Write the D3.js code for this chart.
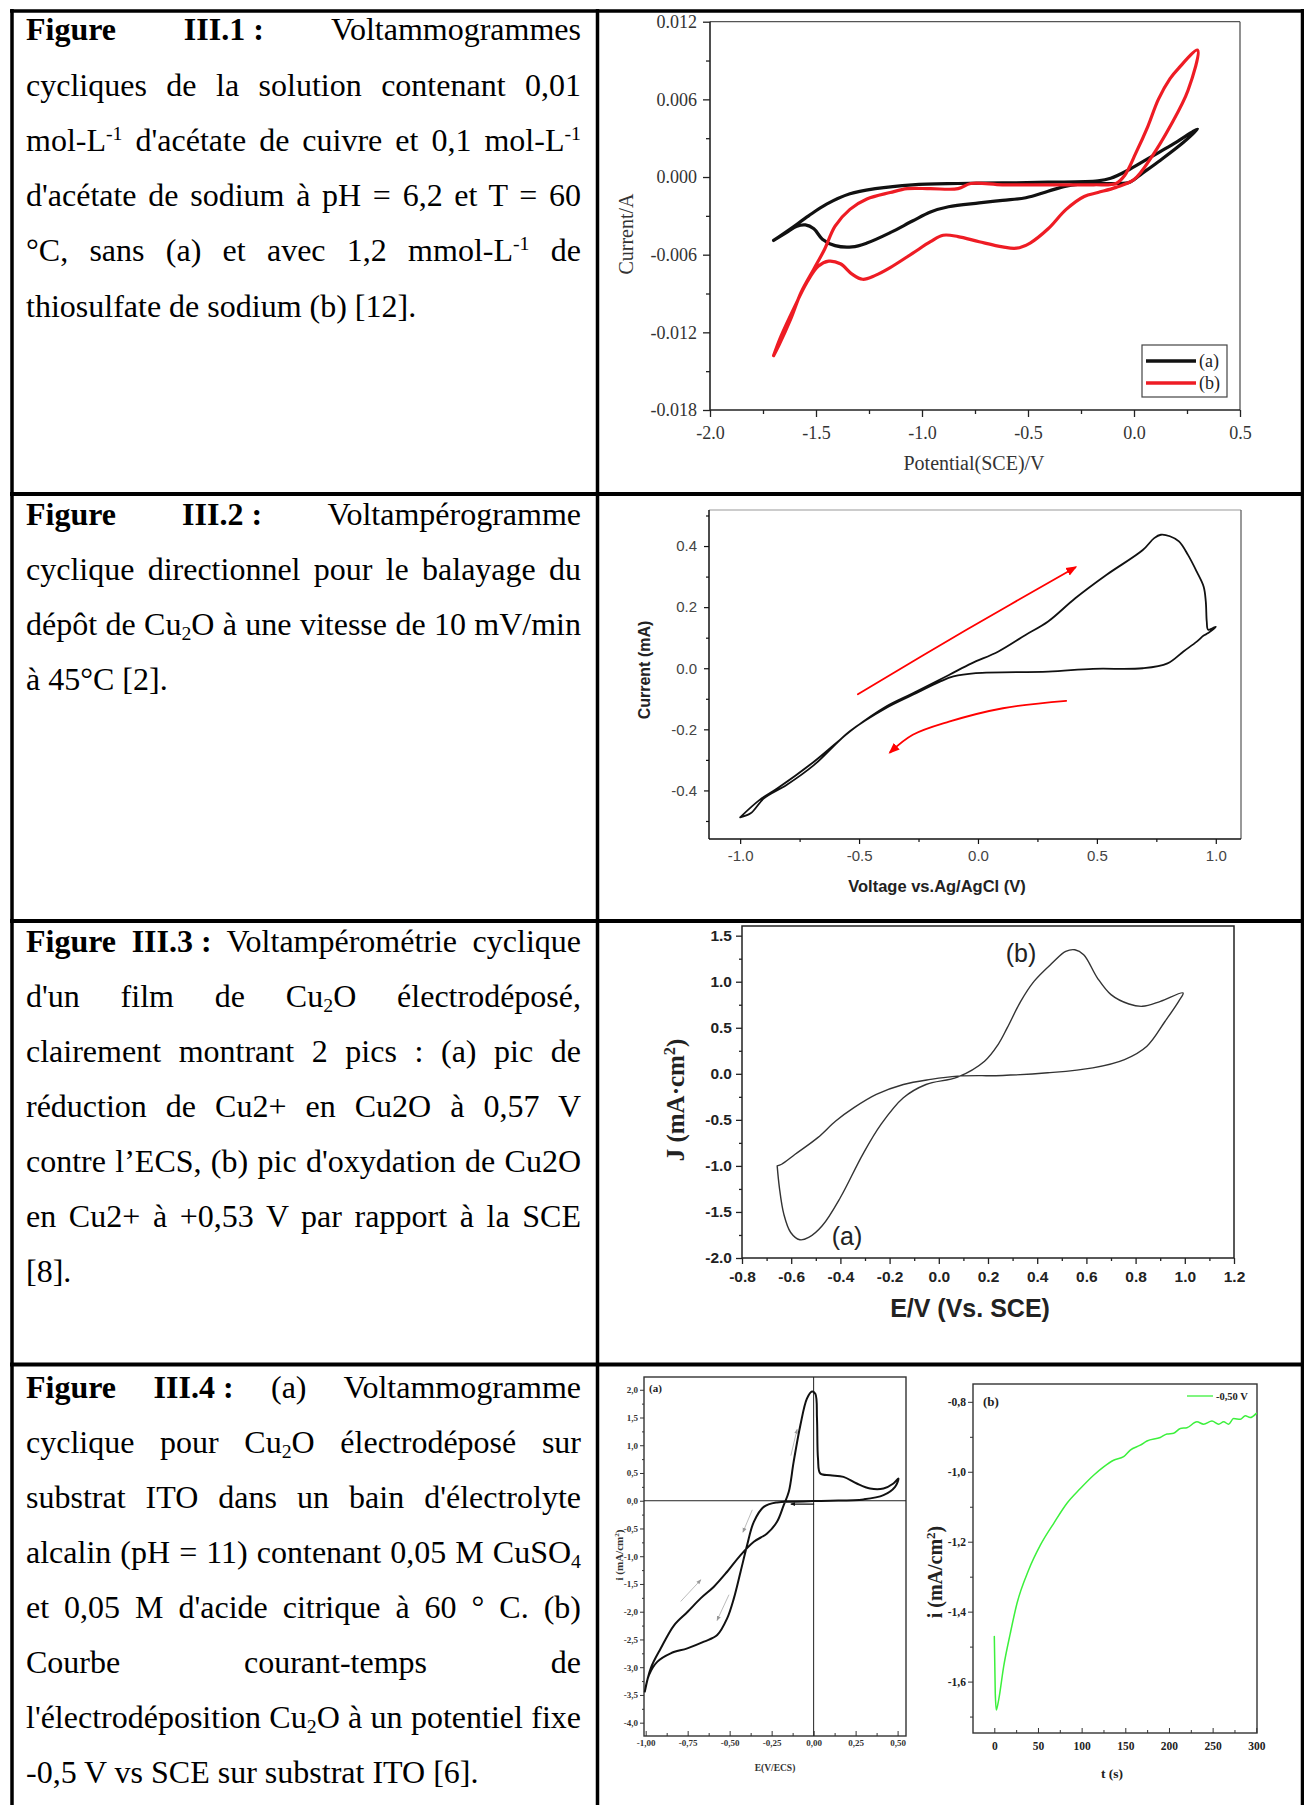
<!DOCTYPE html>
<html>
<head>
<meta charset="utf-8">
<style>
    body { margin: 0; background: #fff; }
    #page { position: relative; width: 1304px; height: 1805px; overflow: hidden; background: #fff; }
    #page svg { position: absolute; left: 0; top: 0; }
    .cap {
        position: absolute; left: 26px;
        font-family: "Liberation Serif", "Times New Roman", serif;
        font-size: 32px; line-height: 32px; white-space: nowrap; color: #000;
    }
    .cap sub, .cap sup { font-size: 0.62em; vertical-align: baseline; position: relative; }
    .cap sub { top: 0.25em; }
    .cap sup { top: -0.55em; }
    .cap .k { word-spacing: 0; }
</style>
<script src="https://cdn.jsdelivr.net/npm/d3@7"></script>
</head>
<body>
<div id="page"></div>
<script>

// ---------- captions (one entry per printed line) ----------
const caption1 = [
    '<b>Figure</b> <b>III.1<span class="k"> </span>:</b> Voltammogrammes',
    'cycliques de la solution contenant 0,01',
    'mol-L<sup>-1</sup> d\'acétate de cuivre et 0,1 mol-L<sup>-1</sup>',
    'd\'acétate de sodium à pH = 6,2 et T = 60',
    '°C, sans (a) et avec 1,2 mmol-L<sup>-1</sup> de',
    'thiosulfate de sodium (b) [12].'
];
const caption2 = [
    '<b>Figure</b> <b>III.2<span class="k"> </span>:</b> Voltampérogramme',
    'cyclique directionnel pour le balayage du',
    'dépôt de Cu<sub>2</sub>O à une vitesse de 10 mV/min',
    'à 45°C [2].'
];
const caption3 = [
    '<b>Figure</b> <b>III.3<span class="k"> </span>:</b> Voltampérométrie cyclique',
    'd\'un film de Cu<sub>2</sub>O électrodéposé,',
    'clairement montrant 2 pics : (a) pic de',
    'réduction de Cu2+ en Cu2O à 0,57 V',
    'contre l’ECS, (b) pic d\'oxydation de Cu2O',
    'en Cu2+ à +0,53 V par rapport à la SCE',
    '[8].'
];
const caption4 = [
    '<b>Figure</b> <b>III.4<span class="k"> </span>:</b> (a) Voltammogramme',
    'cyclique pour Cu<sub>2</sub>O électrodéposé sur',
    'substrat ITO dans un bain d\'électrolyte',
    'alcalin (pH = 11) contenant 0,05 M CuSO<sub>4</sub>',
    'et 0,05 M d\'acide citrique à 60 ° C. (b)',
    'Courbe courant-temps de',
    'l\'électrodéposition Cu<sub>2</sub>O à un potentiel fixe',
    '-0,5 V vs SCE sur substrat ITO [6].'
];

// ---------- Figure III.1 : Current/A vs Potential(SCE)/V ----------
const fig1XTicks = [-2, -1.5, -1, -0.5, 0, 0.5];
const fig1XMinor = [-1.75, -1.25, -0.75, -0.25, 0.25];
const fig1YTicks = [-0.018, -0.012, -0.006, 0, 0.006, 0.012];
const fig1YMinor = [-0.015, -0.009, -0.003, 0.003, 0.009];
const fig1A = [
    [-1.70,-0.0049],[-1.62,-0.0040],[-1.535,-0.0030],[-1.45,-0.0021],[-1.34,-0.0013],[-1.22,-0.0009],
    [-1.045,-0.0006],[-0.83,-0.0005],[-0.62,-0.00046],[-0.405,-0.0004],[-0.17,-0.0003],[-0.11,-0.0001],
    [-0.02,0.0006],[0.085,0.0016],[0.19,0.0026],[0.30,0.0037],
    [0.235,0.0027],[0.125,0.0013],[0.04,0.0003],[-0.02,-0.0004],[-0.085,-0.0005],[-0.19,-0.0005],
    [-0.32,-0.0007],[-0.405,-0.0011],[-0.51,-0.0016],[-0.62,-0.0018],[-0.73,-0.0020],[-0.875,-0.0023],
    [-0.96,-0.0027],[-1.045,-0.0034],[-1.15,-0.0043],[-1.26,-0.0051],[-1.33,-0.0054],[-1.41,-0.0053],
    [-1.47,-0.0048],[-1.51,-0.0040],[-1.55,-0.0037],[-1.59,-0.0038],[-1.64,-0.0043],[-1.70,-0.0049]
];
const fig1B = [
    [-1.70,-0.0138],[-1.665,-0.0123],[-1.60,-0.0100],[-1.545,-0.0082],[-1.49,-0.0069],[-1.44,-0.0065],
    [-1.385,-0.0067],[-1.33,-0.0075],[-1.28,-0.0079],[-1.22,-0.0076],[-1.15,-0.0070],[-1.045,-0.0059],
    [-0.96,-0.0050],[-0.90,-0.0045],[-0.83,-0.0046],[-0.73,-0.0050],[-0.62,-0.0054],[-0.555,-0.0055],
    [-0.49,-0.0051],[-0.405,-0.0040],[-0.32,-0.0025],[-0.235,-0.0015],[-0.17,-0.0012],[-0.085,-0.0008],
    [0.0,-0.0002],[0.085,0.0016],[0.17,0.0039],[0.255,0.0067],[0.30,0.0098],
    [0.21,0.0084],[0.17,0.0076],[0.115,0.0060],[0.065,0.0039],[0.01,0.0019],[-0.045,0.0001],
    [-0.085,-0.0005],[-0.19,-0.0006],[-0.405,-0.0006],[-0.62,-0.0006],[-0.77,-0.0005],[-0.83,-0.0009],
    [-0.96,-0.0009],[-1.07,-0.0009],[-1.15,-0.0012],[-1.26,-0.0017],[-1.34,-0.0025],[-1.41,-0.0038],
    [-1.46,-0.0056],[-1.51,-0.0071],[-1.57,-0.0089],[-1.62,-0.0110],[-1.675,-0.0130],[-1.70,-0.0138]
];
const fig1Legend = ['(a)', '(b)'];

// ---------- Figure III.2 : Current (mA) vs Voltage vs.Ag/AgCl (V) ----------
const fig2XTicks = [-1, -0.5, 0, 0.5, 1];
const fig2XMinor = [-0.75, -0.25, 0.25, 0.75];
const fig2YTicks = [-0.4, -0.2, 0, 0.2, 0.4];
const fig2YMinor = [-0.5, -0.3, -0.1, 0.1, 0.3, 0.5];
const fig2Loop = [
    [-1.0,-0.488],[-0.956,-0.475],[-0.90,-0.426],[-0.805,-0.382],[-0.69,-0.317],[-0.54,-0.207],
    [-0.388,-0.131],[-0.274,-0.087],[-0.16,-0.044],[-0.103,-0.027],[-0.009,-0.016],[0.295,-0.011],
    [0.484,-0.002],[0.693,0.0],[0.797,0.016],[0.864,0.055],[0.92,0.087],[0.949,0.107],[0.968,0.115],
    [1.0,0.136],[0.968,0.126],[0.962,0.153],[0.958,0.218],[0.949,0.267],[0.92,0.316],[0.883,0.371],
    [0.845,0.415],[0.807,0.432],[0.769,0.437],[0.741,0.426],[0.693,0.387],[0.541,0.306],[0.409,0.229],
    [0.295,0.153],[0.20,0.109],[0.086,0.055],[-0.027,0.016],[-0.122,-0.022],[-0.274,-0.082],
    [-0.388,-0.126],[-0.52,-0.196],[-0.69,-0.306],[-0.843,-0.393],[-0.918,-0.431],[-1.0,-0.488]
];
const fig2ArrowUp = [[-0.505,-0.085],[-0.05,0.125],[0.409,0.330]];
const fig2ArrowDown = [[0.371,-0.107],[0.105,-0.131],[-0.122,-0.175],[-0.274,-0.218],[-0.369,-0.275]];

// ---------- Figure III.3 : J vs E/V (Vs. SCE) ----------
const fig3XTicks = [-0.8, -0.6, -0.4, -0.2, 0, 0.2, 0.4, 0.6, 0.8, 1.0, 1.2];
const fig3XMinor = [-0.7, -0.5, -0.3, -0.1, 0.1, 0.3, 0.5, 0.7, 0.9, 1.1];
const fig3YTicks = [-2.0, -1.5, -1.0, -0.5, 0, 0.5, 1.0, 1.5];
const fig3YMinor = [-1.75, -1.25, -0.75, -0.25, 0.25, 0.75, 1.25];
const fig3Loop = [
    [-0.657,-1.0],[-0.648,-1.235],[-0.63,-1.524],[-0.602,-1.723],[-0.565,-1.802],[-0.529,-1.777],
    [-0.474,-1.650],[-0.40,-1.343],[-0.309,-0.874],[-0.235,-0.549],[-0.144,-0.26],[-0.052,-0.116],
    [0.076,-0.036],[0.186,0.137],[0.241,0.318],[0.278,0.498],[0.333,0.787],[0.387,1.004],[0.461,1.203],
    [0.516,1.329],[0.553,1.347],[0.589,1.293],[0.645,1.04],[0.70,0.86],[0.773,0.758],[0.828,0.733],
    [0.901,0.787],[0.993,0.878],[0.975,0.787],[0.92,0.571],[0.846,0.30],[0.755,0.155],[0.626,0.065],
    [0.443,0.011],[0.26,-0.018],[0.076,-0.025],[-0.034,-0.061],[-0.144,-0.116],[-0.254,-0.224],
    [-0.345,-0.368],[-0.419,-0.513],[-0.492,-0.693],[-0.584,-0.874],[-0.639,-0.982],[-0.657,-1.0]
];

// ---------- Figure III.4 (a) : i (mA/cm2) vs E(V/ECS) ----------
const fig4aXTicks = [-1, -0.75, -0.5, -0.25, 0, 0.25, 0.5];
const fig4aXMinor = [-0.875, -0.625, -0.375, -0.125, 0.125, 0.375];
const fig4aYTicks = [-4, -3.5, -3, -2.5, -2, -1.5, -1, -0.5, 0, 0.5, 1, 1.5, 2];
const fig4aYMinor = [-3.75, -3.25, -2.75, -2.25, -1.75, -1.25, -0.75, -0.25, 0.25, 0.75, 1.25, 1.75];
const fig4aLoop = [
    [-1.005,-3.44],[-0.97,-3.02],[-0.91,-2.66],[-0.83,-2.24],[-0.75,-2.0],[-0.673,-1.76],[-0.594,-1.55],
    [-0.515,-1.28],[-0.435,-0.98],[-0.356,-0.74],[-0.277,-0.59],[-0.218,-0.38],[-0.178,-0.08],
    [-0.148,0.16],[-0.119,0.70],[-0.079,1.36],[-0.04,1.84],[-0.01,1.97],[0.01,1.93],[0.02,1.48],
    [0.026,0.76],[0.04,0.49],[0.099,0.46],[0.178,0.43],[0.257,0.31],[0.336,0.22],[0.416,0.22],
    [0.475,0.31],[0.505,0.40],[0.485,0.25],[0.416,0.10],[0.297,0.024],[0.099,0.0],[0.0,-0.006],
    [-0.119,-0.018],[-0.218,-0.03],[-0.297,-0.11],[-0.356,-0.38],[-0.396,-0.80],[-0.435,-1.28],
    [-0.475,-1.76],[-0.515,-2.12],[-0.574,-2.42],[-0.653,-2.54],[-0.752,-2.66],[-0.851,-2.75],
    [-0.93,-2.90],[-0.98,-3.14],[-1.005,-3.44]
];
const fig4aArrows = [
    [[-0.135,0.82],[-0.099,1.28]],
    [[-0.366,-0.17],[-0.42,-0.56]],
    [[-0.79,-1.81],[-0.673,-1.43]],
    [[-0.505,-1.70],[-0.574,-2.15]]
];
const fig4aBackArrow = [[0.0,-0.06],[-0.133,-0.06]];

// ---------- Figure III.4 (b) : i (mA/cm2) vs t (s) ----------
const fig4bXTicks = [0, 50, 100, 150, 200, 250, 300];
const fig4bXMinor = [25, 75, 125, 175, 225, 275];
const fig4bYTicks = [-1.6, -1.4, -1.2, -1.0, -0.8];
const fig4bYMinor = [-1.7, -1.5, -1.3, -1.1, -0.9];
const fig4bCurve = [
    [0,-1.471],[1.1,-1.633],[2.3,-1.681],[5,-1.652],[10.7,-1.557],[18.3,-1.462],[26,-1.376],
    [39.3,-1.281],[52.7,-1.21],[67.9,-1.148],[83.2,-1.09],[98.5,-1.048],[113.7,-1.01],[125.2,-0.986],
    [136.6,-0.967],[148.1,-0.957],[155.7,-0.938],[167.2,-0.924],[174.8,-0.912],[190,-0.902],
    [197.7,-0.892],[205.3,-0.89],[213,-0.876],[220.6,-0.874],[232,-0.857],[239.7,-0.864],[249.2,-0.855],
    [256.9,-0.864],[262.6,-0.857],[268.3,-0.864],[274,-0.848],[281.7,-0.85],[287.4,-0.84],[293,-0.845],
    [300,-0.833]
];

const SERIF = '"Liberation Serif", "Times New Roman", serif';
const SANS = '"Liberation Sans", Arial, sans-serif';

const page = d3.select('#page');
const svg = page.append('svg').attr('width', 1304).attr('height', 1805);
const defs = svg.append('defs');

function marker(id, color, size) {
    defs.append('marker')
        .attr('id', id).attr('viewBox', '0 0 10 10')
        .attr('refX', 8).attr('refY', 5)
        .attr('markerUnits', 'userSpaceOnUse')
        .attr('markerWidth', size).attr('markerHeight', size)
        .attr('orient', 'auto')
        .append('path').attr('d', 'M0,1 L10,5 L0,9 z').attr('fill', color);
}
marker('headRed', '#f00', 11);
marker('headGray', '#999', 5);
marker('headBlack', '#111', 5);

// ---------- table ----------
function tableLine(x1, y1, x2, y2, w) {
    svg.append('line').attr('x1', x1).attr('y1', y1).attr('x2', x2).attr('y2', y2)
        .attr('stroke', '#000').attr('stroke-width', w);
}
tableLine(10, 11, 1304, 11, 3.5);
[494, 921, 1364.5].forEach(y => tableLine(10, y, 1304, y, 3.8));
tableLine(12, 9, 12, 1805, 3.5);
tableLine(597.5, 9, 597.5, 1805, 3.5);
tableLine(1302.5, 9, 1302.5, 1805, 3.5);

// ---------- captions ----------
function writeCaption(lines, firstBaseline, step) {
    lines.forEach((html, i) => {
        let div = page.append('div').attr('class', 'cap')
            .style('top', (firstBaseline + i * step - 26.8) + 'px');
        let span = div.append('span').html(html);
        if (i === lines.length - 1) return;          // last line stays left aligned
        let node = span.node();
        let width = node.getBoundingClientRect().width;
        let spaces = (node.textContent.match(/ /g) || []).length;
        span.selectAll('.k').each(function () { spaces -= (this.textContent.match(/ /g) || []).length; });
        if (spaces > 0) div.style('word-spacing', ((555 - width) / spaces) + 'px');
    });
}
writeCaption(caption1, 40, 55.3);
writeCaption(caption2, 525, 55);
writeCaption(caption3, 952, 55);
writeCaption(caption4, 1398, 55);

// ---------- helpers ----------
function addAxis(orient, scale, pos, major, minor, o) {
    let isX = orient === 'bottom';
    let maker = isX ? d3.axisBottom : d3.axisLeft;
    let tr = isX ? `translate(0,${pos})` : `translate(${pos},0)`;
    let gMinor = svg.append('g').attr('transform', tr)
        .call(maker(scale).tickValues(minor).tickSize(o.minor).tickFormat(''));
    gMinor.select('.domain').remove();
    gMinor.selectAll('line').attr('stroke', o.color).attr('stroke-width', o.width);
    let g = svg.append('g').attr('transform', tr)
        .call(maker(scale).tickValues(major).tickSize(o.major).tickPadding(o.pad).tickFormat(o.fmt));
    g.select('.domain').remove();
    g.selectAll('line').attr('stroke', o.color).attr('stroke-width', o.width);
    g.selectAll('text')
        .attr('font-family', o.font).attr('font-size', o.size)
        .attr('font-weight', o.weight || 'normal').attr('fill', o.fill || '#000');
    return g;
}

function drawCurve(data, x, y, color, width, curve) {
    return svg.append('path').datum(data)
        .attr('d', d3.line().x(d => x(d[0])).y(d => y(d[1])).curve(curve || d3.curveCatmullRom.alpha(0.5)))
        .attr('fill', 'none').attr('stroke', color).attr('stroke-width', width)
        .attr('stroke-linejoin', 'round').attr('stroke-linecap', 'round');
}

function frame(x, y, color, width) {
    let [x0, x1] = x.range(), [y0, y1] = y.range();
    svg.append('rect')
        .attr('x', Math.min(x0, x1)).attr('y', Math.min(y0, y1))
        .attr('width', Math.abs(x1 - x0)).attr('height', Math.abs(y1 - y0))
        .attr('fill', 'none').attr('stroke', color).attr('stroke-width', width);
}

function label(txt, x, y, o) {
    let t = svg.append('text')
        .attr('transform', `translate(${x},${y})` + (o.rotate ? ' rotate(-90)' : ''))
        .attr('text-anchor', o.anchor || 'middle')
        .attr('font-family', o.font).attr('font-size', o.size)
        .attr('font-weight', o.weight || 'normal').attr('fill', o.fill || '#000');
    if (Array.isArray(txt)) {
        txt.forEach(p => {
            let ts = t.append('tspan').text(p.t);
            if (p.sup) ts.attr('baseline-shift', 'super').attr('font-size', o.size * 0.65);
        });
    } else t.text(txt);
    return t;
}

const comma = n => d => d.toFixed(n).replace('.', ',');

// ---------- Figure III.1 ----------
{
    let x = d3.scaleLinear().domain([-2, 0.5]).range([710, 1240]);
    let y = d3.scaleLinear().domain([-0.018, 0.012]).range([410, 21.7]);
    svg.append('line').attr('x1', 710).attr('x2', 1240).attr('y1', 21.7).attr('y2', 21.7).attr('stroke', '#555').attr('stroke-width', 1.3);
    svg.append('line').attr('x1', 1240).attr('x2', 1240).attr('y1', 21.7).attr('y2', 410).attr('stroke', '#555').attr('stroke-width', 1.3);
    svg.append('line').attr('x1', 710).attr('x2', 1240).attr('y1', 410).attr('y2', 410).attr('stroke', '#222').attr('stroke-width', 1.6);
    svg.append('line').attr('x1', 710).attr('x2', 710).attr('y1', 21.7).attr('y2', 410).attr('stroke', '#222').attr('stroke-width', 1.6);
    let o = { color: '#222', width: 1.3, font: SERIF, size: 18, fill: '#333' };
    addAxis('bottom', x, 410, fig1XTicks, fig1XMinor, { ...o, major: 7, minor: 4, pad: 9, fmt: d => d.toFixed(1) });
    addAxis('left', y, 710, fig1YTicks, fig1YMinor, { ...o, major: 7, minor: 4, pad: 6, fmt: d => d.toFixed(3) });
    drawCurve(fig1A, x, y, '#111', 3.2);
    drawCurve(fig1B, x, y, '#ee1c24', 3.2);
    label('Potential(SCE)/V', 974, 470, { font: SERIF, size: 20, fill: '#333' });
    label('Current/A', 633, 234, { font: SERIF, size: 20, fill: '#333', rotate: true });
    // legend
    svg.append('rect').attr('x', 1142).attr('y', 345).attr('width', 85).attr('height', 52)
        .attr('fill', '#fff').attr('stroke', '#444').attr('stroke-width', 1.2);
    fig1Legend.forEach((name, i) => {
        let ly = 361 + i * 22;
        svg.append('line').attr('x1', 1146).attr('x2', 1196).attr('y1', ly).attr('y2', ly)
            .attr('stroke', i ? '#ee1c24' : '#111').attr('stroke-width', 3.5);
        label(name, 1199, ly + 6, { font: SERIF, size: 18, anchor: 'start', fill: '#222' });
    });
}

// ---------- Figure III.2 ----------
{
    let x = d3.scaleLinear().domain([-1.131, 1.106]).range([709, 1241]);
    let y = d3.scaleLinear().domain([-0.559, 0.518]).range([839, 510]);
    svg.append('line').attr('x1', 709).attr('x2', 1241).attr('y1', 510).attr('y2', 510).attr('stroke', '#999').attr('stroke-width', 1.2);
    svg.append('line').attr('x1', 1241).attr('x2', 1241).attr('y1', 510).attr('y2', 839).attr('stroke', '#555').attr('stroke-width', 1.2);
    svg.append('line').attr('x1', 709).attr('x2', 1241).attr('y1', 839).attr('y2', 839).attr('stroke', '#111').attr('stroke-width', 1.5);
    svg.append('line').attr('x1', 709).attr('x2', 709).attr('y1', 510).attr('y2', 839).attr('stroke', '#111').attr('stroke-width', 1.5);
    let o = { color: '#111', width: 1.2, font: SANS, size: 15, fill: '#444' };
    addAxis('bottom', x, 839, fig2XTicks, fig2XMinor, { ...o, major: 5, minor: 3, pad: 6, fmt: d => d.toFixed(1) });
    addAxis('left', y, 709, fig2YTicks, fig2YMinor, { ...o, major: 5, minor: 3, pad: 7, fmt: d => d.toFixed(1) });
    drawCurve(fig2Loop, x, y, '#111', 1.8, d3.curveCatmullRom.alpha(0.5));
    drawCurve(fig2ArrowUp, x, y, '#f00', 1.8).attr('marker-end', 'url(#headRed)');
    drawCurve(fig2ArrowDown, x, y, '#f00', 1.8).attr('marker-end', 'url(#headRed)');
    label('Voltage vs.Ag/AgCl (V)', 937, 892, { font: SANS, size: 16.5, weight: 'bold', fill: '#222' });
    label('Current (mA)', 650, 670, { font: SANS, size: 16, weight: 'bold', fill: '#222', rotate: true });
}

// ---------- Figure III.3 ----------
{
    let x = d3.scaleLinear().domain([-0.8, 1.2]).range([742, 1234]);
    let y = d3.scaleLinear().domain([-2.0, 1.605]).range([1258, 926]);
    frame(x, y, '#222', 1.5);
    let o = { color: '#222', width: 1.3, font: SANS, size: 15.5, weight: 'bold', fill: '#222' };
    addAxis('bottom', x, 1258, fig3XTicks, fig3XMinor, { ...o, major: 6, minor: 3, pad: 7, fmt: d => d.toFixed(1) });
    addAxis('left', y, 742, fig3YTicks, fig3YMinor, { ...o, major: 6, minor: 3, pad: 4, fmt: d => d.toFixed(1) });
    drawCurve(fig3Loop, x, y, '#333', 1.4);
    label('(b)', 1021, 962, { font: SANS, size: 25, fill: '#222' });
    label('(a)', 847, 1245, { font: SANS, size: 25, fill: '#222' });
    label('E/V (Vs. SCE)', 970, 1317, { font: SANS, size: 25, weight: 'bold', fill: '#222' });
    label([{ t: 'J (mA·cm' }, { t: '2', sup: true }, { t: ')' }], 684, 1100,
        { font: SERIF, size: 25, weight: 'bold', fill: '#222', rotate: true });
}

// ---------- Figure III.4 (a) ----------
{
    let x = d3.scaleLinear().domain([-1.01, 0.55]).range([644, 906]);
    let y = d3.scaleLinear().domain([-4.24, 2.23]).range([1736, 1377]);
    frame(x, y, '#333', 1.4);
    let o = { color: '#333', width: 1, font: SERIF, size: 9, weight: 'bold', fill: '#333' };
    addAxis('bottom', x, 1736, fig4aXTicks, fig4aXMinor, { ...o, major: -5, minor: -3, pad: 4, fmt: comma(2) });
    addAxis('left', y, 644, fig4aYTicks, fig4aYMinor, { ...o, major: 4, minor: 2, pad: 2, fmt: comma(1) });
    svg.append('line').attr('x1', 644).attr('x2', 906).attr('y1', y(0)).attr('y2', y(0)).attr('stroke', '#222').attr('stroke-width', 1);
    svg.append('line').attr('x1', x(0)).attr('x2', x(0)).attr('y1', 1377).attr('y2', 1736).attr('stroke', '#222').attr('stroke-width', 1);
    drawCurve(fig4aLoop, x, y, '#111', 2);
    fig4aArrows.forEach(a => drawCurve(a, x, y, '#aaa', 0.8, d3.curveLinear).attr('marker-end', 'url(#headGray)'));
    drawCurve(fig4aBackArrow, x, y, '#111', 1.2, d3.curveLinear).attr('marker-end', 'url(#headBlack)');
    label('(a)', 649, 1392, { font: SERIF, size: 11, weight: 'bold', anchor: 'start', fill: '#222' });
    label('E(V/ECS)', 775, 1771, { font: SERIF, size: 9.5, weight: 'bold', fill: '#333' });
    label([{ t: 'i (mA/cm' }, { t: '2', sup: true }, { t: ')' }], 623, 1555,
        { font: SERIF, size: 11, weight: 'bold', fill: '#333', rotate: true });
}

// ---------- Figure III.4 (b) ----------
{
    let x = d3.scaleLinear().domain([-24.4, 300.8]).range([973, 1257]);
    let y = d3.scaleLinear().domain([-1.747, -0.749]).range([1733, 1384]);
    frame(x, y, '#333', 1.4);
    let o = { color: '#333', width: 1, font: SERIF, size: 11.5, weight: 'bold', fill: '#222' };
    addAxis('bottom', x, 1733, fig4bXTicks, fig4bXMinor, { ...o, major: -5, minor: -3, pad: 9, fmt: d => d });
    addAxis('left', y, 973, fig4bYTicks, fig4bYMinor, { ...o, major: 5, minor: 3, pad: 2, fmt: comma(1) });
    drawCurve(fig4bCurve, x, y, '#3cf03c', 1.5, d3.curveMonotoneX);
    svg.append('line').attr('x1', 1187).attr('x2', 1213).attr('y1', 1396).attr('y2', 1396).attr('stroke', '#3cf03c').attr('stroke-width', 1.3);
    label('-0,50 V', 1216, 1400, { font: SERIF, size: 10.5, weight: 'bold', anchor: 'start', fill: '#222' });
    label('(b)', 983, 1406, { font: SERIF, size: 13, weight: 'bold', anchor: 'start', fill: '#222' });
    label('t (s)', 1112, 1778, { font: SERIF, size: 13.5, weight: 'bold', fill: '#222' });
    label([{ t: 'i (mA/cm' }, { t: '2', sup: true }, { t: ')' }], 942, 1572,
        { font: SERIF, size: 20, weight: 'bold', fill: '#222', rotate: true });
}

</script>
</body>
</html>
